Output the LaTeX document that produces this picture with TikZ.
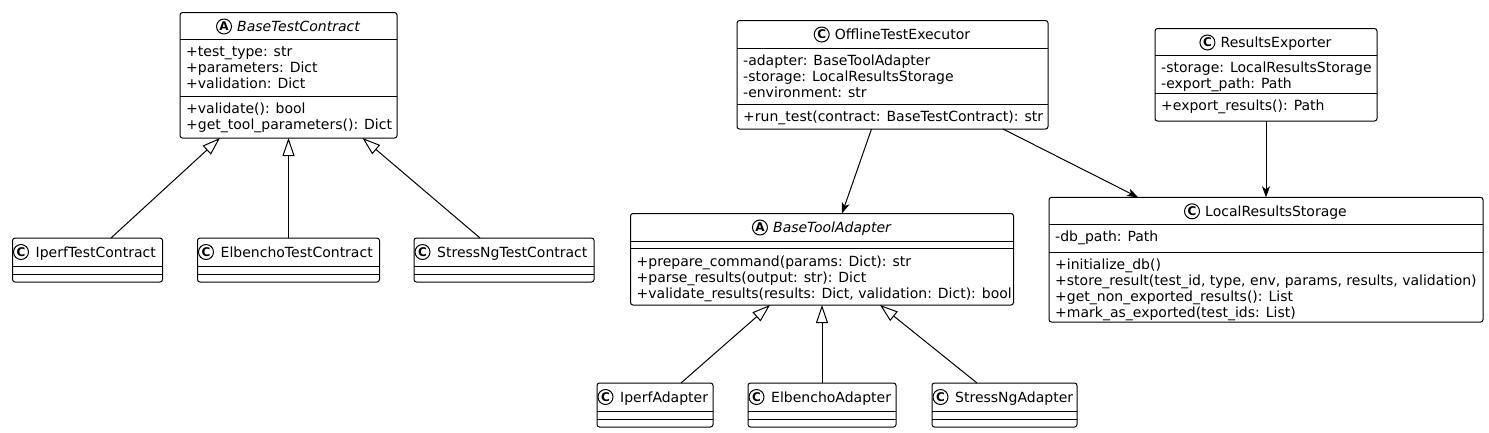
\documentclass[tikz,border=0pt]{standalone}
\usepackage{fontspec}
\setmainfont{DejaVu Sans}
\usetikzlibrary{arrows.meta,calc}
\tikzset{
  box/.style={draw, line width=1pt, rounded corners=2.5pt, fill=white, inner sep=0pt, outer sep=0pt, anchor=north west},
  sep/.style={line width=1pt},
  txt/.style={font=\fontsize{14}{16}\selectfont, inner sep=0pt, align=left, anchor=north west},
  cname/.style={font=\fontsize{14}{16}\selectfont, inner sep=0pt},
  circ/.style={circle, draw, line width=1pt, fill=white, minimum size=15pt, inner sep=0pt, font=\bfseries\fontsize{12}{12}\selectfont},
  inh/.style={line width=1pt, -{Triangle[open, length=18pt, width=12pt, fill=white]}},
  assoc/.style={line width=1pt, -{Stealth[length=11pt, width=8pt, inset=3pt]}},
}
% name, L, T, R, text
\newcommand{\smallclass}[5]{%
  \node[box, minimum width={#4-#2}, minimum height=44] (#1) at (#2,#3) {};
  \draw[sep] (#1.west |- 0,#3+28) -- (#1.east |- 0,#3+28);
  \draw[sep] (#1.west |- 0,#3+36) -- (#1.east |- 0,#3+36);
  \node[circ] (#1-c) at (#2+8.5,#3+14) {C};
  \node[cname, anchor=base west] (#1-n) at (#2+23,#3+19) {#5};
}
% name, letter, text
\newcommand{\bighead}[3]{%
  \node[cname, anchor=base] (#1-n) at ($(#1.north)+(10,19)$) {#3};
  \node[circ] (#1-c) at ($(#1-n.west |- #1.north)+(-13,14)$) {#2};
}
\begin{document}
\begin{tikzpicture}[x=1pt,y=-1pt]
\fill[white] (0,0) rectangle (1489,432);
\useasboundingbox (0,0) rectangle (1489,432);

% BaseTestContract
\node[box, minimum width=217, minimum height=125.5] (btc) at (180,12.5) {};
\draw[sep] (btc.west |- 0,39.5) -- (btc.east |- 0,39.5);
\draw[sep] (btc.west |- 0,96) -- (btc.east |- 0,96);
\bighead{btc}{A}{\itshape BaseTestContract}
\node[txt] (btc-a) at (186,45.3) {\strut+test\_type: str\\+parameters: Dict\\+validation: Dict};
\node[txt] (btc-m) at (186,101.8) {\strut+validate(): bool\\+get\_tool\_parameters(): Dict};

% OfflineTestExecutor
\node[box, minimum width=311, minimum height=108.5] (ote) at (737,20.5) {};
\draw[sep] (ote.west |- 0,48.5) -- (ote.east |- 0,48.5);
\draw[sep] (ote.west |- 0,104.5) -- (ote.east |- 0,104.5);
\bighead{ote}{C}{OfflineTestExecutor}
\node[txt] (ote-a) at (743,54.3) {\strut-adapter: BaseToolAdapter\\-storage: LocalResultsStorage\\-environment: str};
\node[txt] (ote-m) at (743,109.8) {\strut+run\_test(contract: BaseTestContract): str};

% ResultsExporter
\node[box, minimum width=222, minimum height=92.5] (re) at (1155,28.5) {};
\draw[sep] (re.west |- 0,55) -- (re.east |- 0,55);
\draw[sep] (re.west |- 0,93.5) -- (re.east |- 0,93.5);
\bighead{re}{C}{ResultsExporter}
\node[txt] (re-a) at (1161,60.8) {\strut-storage: LocalResultsStorage\\-export\_path: Path};
\node[txt] (re-m) at (1161,99.3) {\strut+export\_results(): Path};

% BaseToolAdapter
\node[box, minimum width=383, minimum height=91.5] (bta) at (630.5,213.5) {};
\draw[sep] (bta.west |- 0,241) -- (bta.east |- 0,241);
\draw[sep] (bta.west |- 0,248.5) -- (bta.east |- 0,248.5);
\bighead{bta}{A}{\itshape BaseToolAdapter}
\node[txt] (bta-m) at (636.5,254.8) {\strut+prepare\_command(params: Dict): str\\+parse\_results(output: str): Dict\\+validate\_results(results: Dict, validation: Dict): bool};

% LocalResultsStorage
\node[box, minimum width=434, minimum height=124.7] (lrs) at (1049,197.3) {};
\draw[sep] (lrs.west |- 0,224.5) -- (lrs.east |- 0,224.5);
\draw[sep] (lrs.west |- 0,252) -- (lrs.east |- 0,252);
\bighead{lrs}{C}{LocalResultsStorage}
\node[txt] (lrs-a) at (1055,230.3) {\strut-db\_path: Path};
\node[txt] (lrs-m) at (1055,257.8) {\strut+initialize\_db()\\+store\_result(test\_id, type, env, params, results, validation)\\+get\_non\_exported\_results(): List\\+mark\_as\_exported(test\_ids: List)};

% small classes
\smallclass{itc}{12.5}{238}{162.5}{IperfTestContract}
\smallclass{etc}{197.5}{238}{379.5}{ElbenchoTestContract}
\smallclass{stc}{414}{238}{594}{StressNgTestContract}
\smallclass{ia}{597}{383}{713}{IperfAdapter}
\smallclass{ea}{748}{383}{896}{ElbenchoAdapter}
\smallclass{sa}{932}{383}{1077}{StressNgAdapter}

% inheritance
\draw[inh] ([xshift=23.5]itc.north) -- ([xshift=-68.5]btc.south);
\draw[inh] (etc.north) -- (btc.south);
\draw[inh] ([xshift=-24]stc.north) -- ([xshift=74]btc.south);
\draw[inh] ([xshift=26]ia.north) -- ([xshift=-52]bta.south);
\draw[inh] (ea.north) -- (bta.south);
\draw[inh] ([xshift=-27.5]sa.north) -- ([xshift=58]bta.south);

% associations
\draw[assoc] ([xshift=-21]ote.south) -- ([xshift=20]bta.north);
\draw[assoc] ([xshift=110.5]ote.south) -- ([xshift=-128]lrs.north);
\draw[assoc] (re.south) -- (lrs.north);
\end{tikzpicture}
\end{document}
